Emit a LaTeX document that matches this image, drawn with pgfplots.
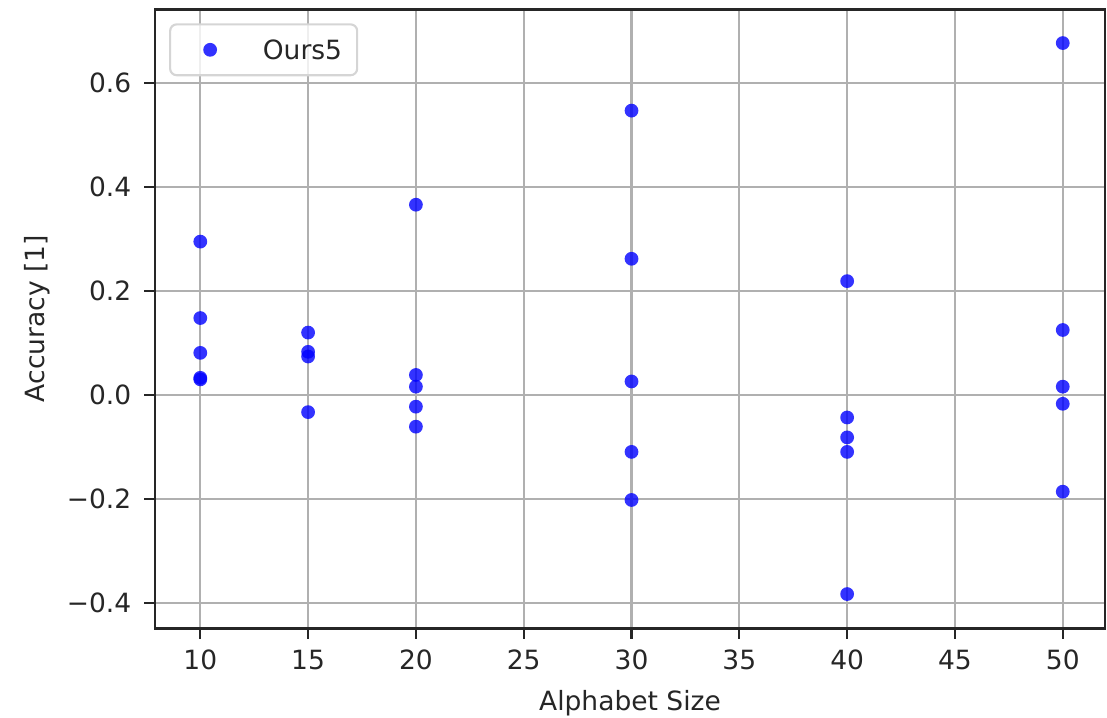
\documentclass[border=0pt]{standalone}
\usepackage{fontspec}
\setmainfont{DejaVu Sans}
\usepackage{pgfplots}
\pgfplotsset{compat=1.18}
\definecolor{gridgray}{HTML}{B0B0B0}
\definecolor{axisdark}{HTML}{262626}
\definecolor{legedge}{HTML}{D5D5D5}
\begin{document}
\begin{tikzpicture}
\begin{axis}[
  name=ax,
  scale only axis,
  width=358.5pt, height=233.6pt,
  xmin=7.9, xmax=51.96, ymin=-0.4488, ymax=0.742,
  xtick={10,15,20,25,30,35,40,45,50},
  ytick={-0.4,-0.2,0,0.2,0.4,0.6},
  yticklabels={−0.4,−0.2,0.0,0.2,0.4,0.6},
  grid=major,
  major grid style={color=gridgray, line width=0.8pt},
  axis line style={color=axisdark, line width=1pt},
  tick align=outside, tick pos=left,
  major tick length=4pt,
  every tick/.style={color=axisdark, line width=0.8pt},
  tick label style={font=\fontsize{10}{12}\selectfont, color=axisdark},
  /pgf/number format/assume math mode=true,
  xticklabel style={inner sep=0pt, anchor=north, yshift=-4pt},
  yticklabel style={inner sep=0pt, anchor=east, xshift=-4.8pt},
  every axis x label/.style={at={(axis description cs:0.5,0)}, anchor=north, yshift=-23.3pt, inner sep=0pt, font=\fontsize{10}{12}\selectfont, color=axisdark},
  every axis y label/.style={at={(axis description cs:-0.1241,0.5)}, rotate=90, anchor=center, inner sep=0pt, font=\fontsize{10}{12}\selectfont, color=axisdark},
  xlabel={Alphabet Size},
  ylabel={Accuracy [1]},
  legend style={at={(axis description cs:0,1)}, anchor=north west, xshift=5.3pt, yshift=-5.3pt,
    draw=legedge, line width=0.8pt, rounded corners=2.5pt, fill=white, fill opacity=0.8, text opacity=1,
    inner sep=0pt, column sep=0pt,
    nodes={inner sep=0pt, text depth=0pt, font=\fontsize{10}{12}\selectfont, text=axisdark},
    cells={anchor=west}},
  legend image code/.code={%
    \path[draw=none, fill=none] (-15.1pt,-9.6pt) rectangle (19.9pt,9.6pt);
    \fill[blue, fill opacity=0.8, draw=none] (0pt,0pt) circle (2.6pt);},
]
\addplot[only marks, mark=*, mark size=2.6pt, color=blue, mark options={fill=blue, fill opacity=0.8, draw opacity=0}]
coordinates {
(10,0.295) (10,0.148) (10,0.081) (10,0.033) (10,0.030)
(15,0.120) (15,0.083) (15,0.074) (15,-0.033)
(20,0.366) (20,0.0385) (20,0.016) (20,-0.0225) (20,-0.061)
(30,0.547) (30,0.262) (30,0.026) (30,-0.1095) (30,-0.202)
(40,0.219) (40,-0.0433) (40,-0.0816) (40,-0.1095) (40,-0.383)
(50,0.677) (50,0.125) (50,0.016) (50,-0.017) (50,-0.186)
};
\addlegendentry{Ours5\hspace*{5.7pt}}
\end{axis}
\pgfresetboundingbox
\path ([xshift=-58.5pt,yshift=-33.5pt]ax.south west) rectangle ([xshift=0.75pt,yshift=3.5pt]ax.north east);
\end{tikzpicture}
\end{document}
